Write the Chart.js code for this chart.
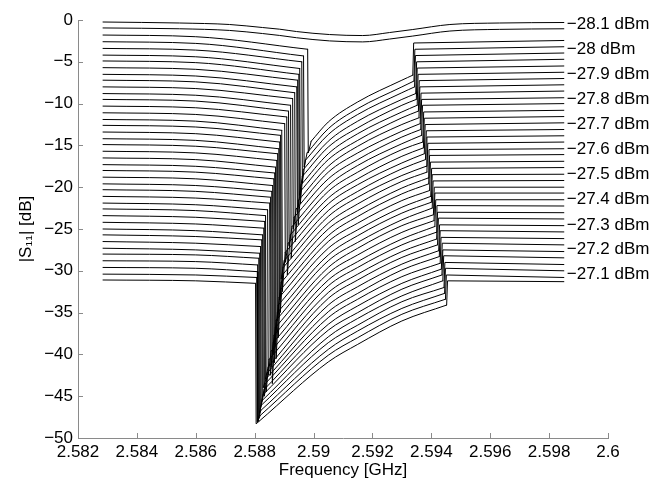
<!DOCTYPE html>
<html>
<head>
<meta charset="utf-8">
<script src="https://cdn.jsdelivr.net/npm/chart.js@4.4.1/dist/chart.umd.min.js"></script>
<style>
  html, body { margin: 0; padding: 0; background: #fff; }
  #wrap { width: 658px; height: 481px; }
</style>
</head>
<body>
<div id="wrap"><canvas id="c" width="658" height="481"></canvas></div>
<script>
// Input power of each sweep, top trace first (dBm)
const powerDbm = [-28.1, -28.075, -28.05, -28.025, -28, -27.975, -27.95, -27.925,
  -27.9, -27.875, -27.85, -27.825, -27.8, -27.775, -27.75, -27.725,
  -27.7, -27.675, -27.65, -27.625, -27.6, -27.575, -27.55, -27.525,
  -27.5, -27.475, -27.45, -27.425, -27.4, -27.375, -27.35, -27.325,
  -27.3, -27.275, -27.25, -27.225, -27.2, -27.175, -27.15, -27.125, -27.1];

// Two lowest-power sweeps: smooth response, no switching (GHz / dB)
const smoothFreq   = [2.58285, 2.58545, 2.58715, 2.58827, 2.58885, 2.58942, 2.59054, 2.59167, 2.59258, 2.59337, 2.59463, 2.59632, 2.5985];
const levelLowest  = [-0.24, -0.36, -0.54, -0.90, -1.10, -1.38, -1.74, -1.86, -1.50, -1.14, -0.54, -0.36, -0.30];
const levelSecond  = [-0.95, -1.05, -1.25, -1.62, -1.85, -2.12, -2.50, -2.62, -2.28, -1.92, -1.32, -1.12, -1.05];

// Remaining sweeps (third trace onward): bistable response, jump down then jump up
const sweepStart = 2.58285;
const sweepMid = 2.5860;
const sweepEnd = 2.5985;
const branchFreq = [2.5905, 2.5915, 2.5930];

const startLevel = [-1.8, -2.6, -3.4, -4.2, -4.9, -5.7, -6.5, -7.2, -8.0, -8.8, -9.5, -10.3, -11.1,
  -11.9, -12.6, -13.4, -14.2, -14.9, -15.7, -16.5, -17.3, -18.0, -18.8, -19.6, -20.3, -21.1,
  -21.9, -22.6, -23.4, -24.2, -25.0, -25.7, -26.5, -27.3, -28.0, -28.8, -29.6, -30.4, -31.1];
const midLevel = [-2.0, -2.8, -3.6, -4.4, -5.1, -5.9, -6.7, -7.4, -8.2, -9.0, -9.7, -10.5, -11.3,
  -12.1, -12.8, -13.6, -14.4, -15.1, -15.9, -16.7, -17.5, -18.2, -19.0, -19.8, -20.5, -21.3,
  -22.1, -22.8, -23.6, -24.4, -25.2, -25.9, -26.7, -27.5, -28.1, -28.9, -29.7, -30.5, -31.2];
const dropFreq = [2.58980, 2.58966, 2.58960, 2.58953, 2.58950, 2.58946, 2.58943, 2.58936, 2.58929,
  2.58922, 2.58915, 2.58909, 2.58902, 2.58892, 2.58888, 2.58885, 2.58882, 2.58878, 2.58875,
  2.58871, 2.58868, 2.58865, 2.58861, 2.58858, 2.58854, 2.58851, 2.58844, 2.58837, 2.58834,
  2.58831, 2.58827, 2.58824, 2.58820, 2.58817, 2.58814, 2.58810, 2.58809, 2.58807, 2.58803];
const preDropLevel = [-3.5, -4.3, -5.0, -5.8, -6.5, -7.2, -8.0, -8.7, -9.4, -10.2, -10.9, -11.6, -12.4,
  -13.2, -13.8, -14.6, -15.4, -16.0, -16.8, -17.6, -18.3, -19.0, -19.8, -20.5, -21.2, -21.9,
  -22.7, -23.4, -24.1, -24.9, -25.7, -26.3, -27.1, -27.9, -28.5, -29.3, -30.1, -30.8, -31.5];
// deepest point of the resonance dip right after the jump down
const tipLevel = [-15.9, -17.6, -19.5, -22.0, -21.0, -24.5, -23.0, -26.5, -25.0, -28.5, -27.0, -30.5, -29.0,
  -32.5, -31.0, -35.0, -33.5, -38.0, -36.0, -40.5, -38.5, -41.0, -40.0, -43.5, -41.5, -42.5,
  -42.5, -44.5, -43.0, -45.0, -44.0, -45.5, -46.0, -46.5, -47.0, -47.9, -48.0, -48.1, -48.3];
// level where the steep recovery bends into the upper branch
const elbowLevel = [-14.5, -15.9, -16.8, -17.9, -18.7, -19.7, -20.5, -21.6, -22.6, -23.6, -24.7, -25.7, -26.7,
  -27.8, -28.8, -29.6, -30.5, -31.4, -32.3, -33.2, -34.1, -35.0, -35.9, -36.8, -37.7, -38.6,
  -39.6, -40.6, -41.5, -42.2, -42.9, -43.5, -44.2, -44.8, -45.5, -46.1, -46.7, -47.3, -48.0];
const branchA = [-12.2, -13.0, -13.7, -14.5, -15.2, -16.0, -16.7, -17.5, -18.2, -19.0, -19.8, -20.5, -21.3,
  -22.0, -22.8, -23.5, -24.3, -25.0, -25.8, -26.5, -27.3, -28.1, -28.8, -29.6, -30.3, -31.1,
  -31.8, -32.6, -33.3, -34.1, -34.9, -35.6, -36.4, -37.1, -37.9, -38.6, -39.4, -40.1, -40.9];
const branchB = [-9.8, -10.6, -11.3, -12.1, -12.9, -13.6, -14.4, -15.1, -15.9, -16.7, -17.4, -18.2, -19.0,
  -19.7, -20.5, -21.2, -22.0, -22.8, -23.5, -24.3, -25.1, -25.8, -26.6, -27.3, -28.1, -28.9,
  -29.6, -30.4, -31.1, -31.9, -32.7, -33.4, -34.2, -35.0, -35.7, -36.5, -37.2, -38.0, -38.8];
const branchC = [-7.2, -8.0, -8.7, -9.5, -10.2, -11.0, -11.7, -12.5, -13.3, -14.0, -14.8, -15.5, -16.3,
  -17.1, -17.8, -18.6, -19.3, -20.1, -20.8, -21.6, -22.4, -23.1, -23.9, -24.6, -25.4, -26.2,
  -26.9, -27.7, -28.4, -29.2, -29.9, -30.7, -31.5, -32.2, -33.0, -33.7, -34.5, -35.2, -36.0];
const jumpFreq = [2.59337, 2.59341, 2.59343, 2.59347, 2.59349, 2.59352, 2.59356, 2.59358, 2.59362,
  2.59364, 2.59367, 2.59371, 2.59373, 2.59376, 2.59380, 2.59382, 2.59385, 2.59389, 2.59391,
  2.59394, 2.59398, 2.59400, 2.59403, 2.59407, 2.59409, 2.59412, 2.59416, 2.59418, 2.59421,
  2.59425, 2.59427, 2.59430, 2.59434, 2.59436, 2.59439, 2.59443, 2.59445, 2.59448, 2.59452];
const branchEnd = [-6.6, -7.3, -8.0, -8.8, -9.5, -10.2, -10.9, -11.7, -12.4, -13.1, -13.8, -14.6, -15.3,
  -16.0, -16.7, -17.5, -18.2, -18.9, -19.6, -20.4, -21.1, -21.8, -22.5, -23.3, -24.0, -24.7,
  -25.4, -26.2, -26.9, -27.6, -28.3, -29.1, -29.8, -30.5, -31.2, -32.0, -32.7, -33.4, -34.1];
const rightLevel = [-2.75, -3.5, -4.25, -5.0, -5.75, -6.5, -7.25, -8.0, -8.75, -9.5, -10.2, -11.0, -11.75,
  -12.5, -13.25, -14.0, -14.75, -15.5, -16.2, -17.0, -17.75, -18.5, -19.25, -20.0, -20.7, -21.5,
  -22.2, -23.0, -23.7, -24.5, -25.2, -26.0, -26.7, -27.5, -28.2, -29.0, -29.7, -30.5, -31.2];
const endLevel = [-2.45, -3.2, -3.95, -4.7, -5.5, -6.25, -7.0, -7.75, -8.5, -9.3, -10.0, -10.8, -11.55,
  -12.3, -13.1, -13.85, -14.6, -15.4, -16.1, -16.9, -17.65, -18.45, -19.2, -20.0, -20.7, -21.5,
  -22.25, -23.05, -23.8, -24.6, -25.35, -26.15, -26.9, -27.7, -28.45, -29.25, -30.0, -30.8, -31.3];

// Power annotations at the right end of the sweeps
const labelPower = [-28.1, -28, -27.9, -27.8, -27.7, -27.6, -27.5, -27.4, -27.3, -27.2, -27.1];
const labelLevel = [-0.5, -3.5, -6.5, -9.5, -12.5, -15.5, -18.5, -21.5, -24.5, -27.4, -30.4];
const labelFreq = 2.5986;

// Axis ticks
const xTicks = [2.582, 2.584, 2.586, 2.588, 2.59, 2.592, 2.594, 2.596, 2.598, 2.6];
const yTicks = [0, -5, -10, -15, -20, -25, -30, -35, -40, -45, -50];

// Frequency offsets of the dip tip, the bend and the jump-up step after their sweep points (GHz)
const TIP_OFFSET = 0.00002;
const ELBOW_OFFSET = 0.00012;
const JUMP_OFFSET = 0.00003;

const FONT = "'Liberation Sans', Arial, Helvetica, 'DejaVu Sans', sans-serif";
const minus = v => (v < 0 ? '\u2212' + Math.abs(v) : String(v));

function trace(power, points, smooth) {
  return {
    label: power + ' dBm',
    data: points,
    borderColor: '#000',
    borderWidth: 1,
    borderCapStyle: 'round',
    pointRadius: 0,
    fill: false,
    tension: 0,
    cubicInterpolationMode: smooth ? 'monotone' : 'default'
  };
}

const datasets = [
  trace(powerDbm[0], smoothFreq.map((f, k) => ({ x: f, y: levelLowest[k] })), true),
  trace(powerDbm[1], smoothFreq.map((f, k) => ({ x: f, y: levelSecond[k] })), true)
];
for (let k = 0; k < startLevel.length; k++) {
  const p = powerDbm[k + 2];
  const drop = { x: dropFreq[k], y: preDropLevel[k] };
  const elbow = { x: dropFreq[k] + ELBOW_OFFSET, y: elbowLevel[k] };
  const branchTop = { x: jumpFreq[k], y: branchEnd[k] };
  // lower branch, before the jump down
  datasets.push(trace(p, [{ x: sweepStart, y: startLevel[k] }, { x: sweepMid, y: midLevel[k] }, drop], true));
  // jump down into the dip and steep recovery
  datasets.push(trace(p, [drop, { x: dropFreq[k] + TIP_OFFSET, y: tipLevel[k] }, elbow], false));
  // upper (driven) branch
  datasets.push(trace(p, [elbow,
    { x: branchFreq[0], y: branchA[k] },
    { x: branchFreq[1], y: branchB[k] },
    { x: branchFreq[2], y: branchC[k] },
    branchTop], true));
  // jump up and the flat tail
  datasets.push(trace(p, [branchTop, { x: jumpFreq[k] + JUMP_OFFSET, y: rightLevel[k] }, { x: sweepEnd, y: endLevel[k] }], false));
}

// Tick marks pointing into the plot
const inwardTicks = {
  id: 'inwardTicks',
  afterDraw(chart) {
    const { ctx, chartArea: a, scales: { x, y } } = chart;
    ctx.save();
    ctx.strokeStyle = '#8a8a8a';
    ctx.lineWidth = 1;
    ctx.beginPath();
    xTicks.forEach(v => {
      const px = Math.round(x.getPixelForValue(v)) + 0.5;
      ctx.moveTo(px, a.bottom);
      ctx.lineTo(px, a.bottom - 5);
    });
    yTicks.forEach(v => {
      const py = Math.round(y.getPixelForValue(v)) + 0.5;
      ctx.moveTo(a.left, py);
      ctx.lineTo(a.left + 5, py);
    });
    ctx.stroke();
    ctx.restore();
  }
};

// Input-power annotations next to the sweep ends
const powerLabels = {
  id: 'powerLabels',
  afterDatasetsDraw(chart) {
    const { ctx, scales: { x, y } } = chart;
    ctx.save();
    ctx.font = '17px ' + FONT;
    ctx.fillStyle = '#000';
    ctx.textAlign = 'left';
    ctx.textBaseline = 'middle';
    const px = x.getPixelForValue(labelFreq);
    labelPower.forEach((p, k) => {
      ctx.fillText(minus(p) + ' dBm', px, y.getPixelForValue(labelLevel[k]));
    });
    ctx.restore();
  }
};

new Chart(document.getElementById('c'), {
  type: 'line',
  data: { datasets },
  options: {
    responsive: false,
    animation: false,
    layout: { padding: { top: 20, right: 50, left: 0, bottom: 0 } },
    plugins: { legend: { display: false }, tooltip: { enabled: false } },
    scales: {
      x: {
        type: 'linear',
        min: 2.582,
        max: 2.6,
        afterBuildTicks: s => { s.ticks = xTicks.map(v => ({ value: v })); },
        afterFit: s => { s.height = 43; },
        grid: { display: true, drawOnChartArea: false, drawTicks: false, color: 'rgba(0,0,0,0)' },
        border: { display: true, color: '#8a8a8a', width: 1 },
        ticks: {
          autoSkip: false,
          maxRotation: 0,
          padding: 4,
          color: '#000',
          font: { family: FONT, size: 17 },
          callback: v => String(Number(v.toFixed(3)))
        },
        title: {
          display: true,
          text: 'Frequency [GHz]',
          color: '#000',
          font: { family: FONT, size: 17 },
          padding: { top: 0, bottom: 0 }
        }
      },
      y: {
        type: 'linear',
        min: -50,
        max: 0,
        afterBuildTicks: s => { s.ticks = yTicks.map(v => ({ value: v })); },
        afterFit: s => { s.width = 78; },
        grid: { display: true, drawOnChartArea: false, drawTicks: false, color: 'rgba(0,0,0,0)' },
        border: { display: true, color: '#8a8a8a', width: 1 },
        ticks: {
          autoSkip: false,
          padding: 5,
          color: '#000',
          font: { family: FONT, size: 17 },
          callback: v => minus(v)
        },
        title: {
          display: true,
          text: '|S\u2081\u2081| [dB]',
          color: '#000',
          font: { family: FONT, size: 17 },
          padding: { top: 16, bottom: 0 }
        }
      }
    }
  },
  plugins: [inwardTicks, powerLabels]
});
</script>
</body>
</html>
